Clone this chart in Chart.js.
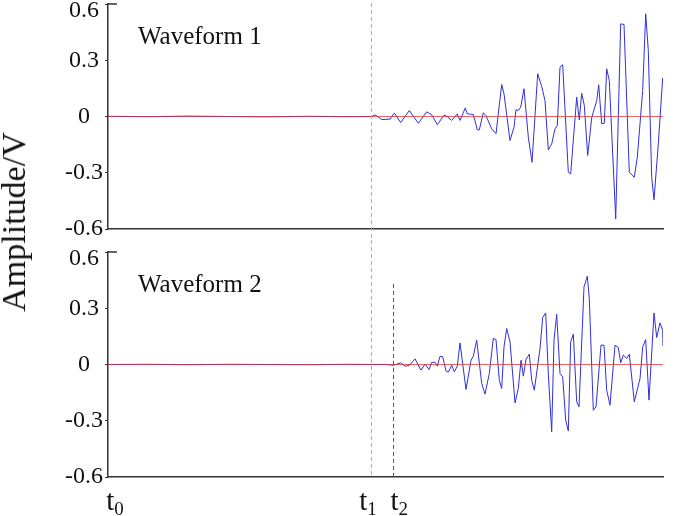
<!DOCTYPE html>
<html>
<head>
<meta charset="utf-8">
<script src="https://cdn.jsdelivr.net/npm/chart.js@4"></script>
<style>
  html, body { margin: 0; padding: 0; background: #fff; }
  #wrap { position: relative; width: 675px; height: 516px; overflow: hidden; }
  #top { position: absolute; left: 0; top: 0; }
  #bottom { position: absolute; left: 0; top: 240px; }
  #ytitle {
    position: absolute; left: 14px; top: 222px;
    transform: translate(-50%, -50%) rotate(-90deg);
    font: 34px "Liberation Serif", serif; color: #111; white-space: nowrap;
  }
</style>
</head>
<body>
<div id="wrap">
  <canvas id="top" width="675" height="240"></canvas>
  <canvas id="bottom" width="675" height="276"></canvas>
  <div id="ytitle">Amplitude/V</div>
</div>
<script>
// time axis runs t0 .. end of record (arbitrary sample units)
const T_END = 555;
const markerTimes = [0, 263, 285.3];      // t0, t1, t2
const markerSubs = ['0', '1', '2'];
const yTicks = [-0.6, -0.3, 0, 0.3, 0.6];
const t2LineTop = 0.43;

// Waveform 1 (V)
const time1 = [0, 40, 80, 120, 160, 200, 240, 263.7, 267, 273.7, 282, 286.3, 292.7, 301.3, 310.3, 318.7, 323.7,
  329.3, 336, 338.7, 343.7, 349.3, 352, 357.3, 359.3, 365.3, 369.3, 371.3, 375.3, 378, 383.7, 388, 393.7, 396, 402,
  406, 408, 410.3, 412.7, 416, 420.3, 424, 429.7, 433.7, 437, 440.3, 443.7, 447, 449.3, 452, 454.7, 460.3, 462.7,
  468.7, 471.3, 473.7, 476.3, 479.7, 483.7, 488.7, 490.7, 493.7, 496.3, 498.7, 501.3, 507.7, 512.7, 516, 521.3,
  526.3, 529.3, 534.7, 537.7, 540.3, 543.7, 546, 550.3, 554.7];
const amp1 = [0.001, -0.001, 0.002, 0, -0.002, 0.001, -0.001, 0, 0.009, -0.016, -0.014, 0.018, -0.032, 0.032, -0.036, 0.025, 0.009,
  -0.044, 0.007, 0.002, -0.021, 0.014, -0.021, 0.046, 0.014, 0.011, -0.071, -0.071, 0.020, 0.005, -0.066, -0.092, 0.171, 0.121, -0.128,
  -0.057, 0.036, 0.032, 0.050, 0.148, -0.110, -0.244, 0.228, 0.160, 0.085, -0.178, -0.146, -0.066, -0.048, 0.263, 0.276, -0.297, -0.306,
  0.103, -0.018, 0.124, 0.059, -0.208, -0.007, 0.085, 0.169, -0.039, -0.036, 0.254, 0.192, -0.546, 0.494, 0.491, -0.297,
  -0.324, -0.217, 0.139, 0.548, 0.352, -0.324, -0.444, -0.146, 0.206];

// Waveform 2 (V)
const time2 = [0, 40, 80, 120, 160, 200, 240, 278.7, 285.3, 288.7, 292.7, 297, 301.3, 307, 313, 317, 321, 323.7,
  327, 329.3, 332, 334.7, 338, 340.3, 343.7, 346.3, 349.3, 352, 358, 363, 365.3, 368.7, 373.7, 377, 381.3, 385.3, 388, 391.3,
  393.7, 396, 398.7, 402, 407, 410.3, 413, 415.3, 418, 421.3, 423.7, 426.3, 432, 434.7, 437.7, 440.3, 443.7, 446, 448.7, 452,
  454.7, 457.7, 460.3, 462.7, 465.3, 468.7, 471, 476, 479.3, 481.3, 485.3, 488, 493, 496, 498.7, 502, 507, 510.3, 512.7, 515.3,
  518.7, 521.3, 526.3, 532, 534.7, 537.7, 541, 546, 548.7, 552, 554.7, 555];
const amp2 = [0, 0.001, -0.001, 0.001, 0, -0.001, 0.001, 0, -0.004, 0.002, 0.009, -0.009, -0.005, 0.030, -0.030, 0.002, -0.027, 0.012,
  0.012, -0.009, 0.044, 0.041, -0.034, -0.041, -0.004, -0.039, -0.009, 0.115, -0.133, 0.023, 0.044, 0.130, -0.101, -0.158, -0.048, 0.139, 0.133, -0.084,
  -0.128, 0.094, 0.192, 0.121, -0.205, -0.128, 0.023, -0.062, 0.027, 0.055, -0.084, -0.137, 0.085, 0.251, 0.275, -0.048, -0.359, 0.130, 0.268, -0.048,
  -0.066, -0.297, -0.354, 0.121, 0.162, -0.199, -0.226, 0.414, 0.471, 0.352, -0.244, -0.226, 0.103, 0.103, -0.137, -0.217, 0.103, 0.091, 0.009, 0.050,
  0.032, 0.055, -0.199, -0.075, 0.094, 0.133, -0.190, 0.275, 0.144, 0.222, 0.183, 0.098];

const SERIF = '"Liberation Serif", "Times New Roman", serif';
const AXIS = '#333';

// dashed t1 / t2 markers, waveform caption, t-labels
const overlay = {
  id: 'overlay',
  afterDatasetsDraw(chart, args, opts) {
    const { ctx, chartArea, scales: { x, y } } = chart;
    ctx.save();

    // short stub at the top of the y axis
    ctx.strokeStyle = AXIS;
    ctx.lineWidth = 1.5;
    ctx.beginPath();
    ctx.moveTo(chartArea.left, y.getPixelForValue(0.6));
    ctx.lineTo(chartArea.left + 9, y.getPixelForValue(0.6));
    ctx.stroke();

    ctx.lineWidth = 1;
    ctx.setLineDash([4, 3]);
    const x1 = Math.round(x.getPixelForValue(markerTimes[1])) + 0.5;
    ctx.strokeStyle = '#b0b0b0';
    ctx.beginPath();
    ctx.moveTo(x1, opts.isTop ? chartArea.top - 1 : 0);
    ctx.lineTo(x1, opts.isTop ? chart.height : chartArea.bottom);
    ctx.stroke();

    if (!opts.isTop) {
      const x2 = Math.round(x.getPixelForValue(markerTimes[2])) + 0.5;
      ctx.strokeStyle = '#555';
      ctx.beginPath();
      ctx.moveTo(x2, y.getPixelForValue(t2LineTop));
      ctx.lineTo(x2, chartArea.bottom);
      ctx.stroke();
    }
    ctx.setLineDash([]);

    ctx.fillStyle = '#111';
    ctx.textBaseline = 'alphabetic';
    ctx.textAlign = 'left';
    ctx.font = '25px ' + SERIF;
    ctx.fillText(opts.caption, x.getPixelForValue(30), y.getPixelForValue(0.385));

    if (!opts.isTop) {
      const shift = [7, -3, 6];
      const base = chartArea.bottom + 33;
      markerTimes.forEach((t, i) => {
        ctx.font = '29px ' + SERIF;
        const wt = ctx.measureText('t').width;
        ctx.font = '19px ' + SERIF;
        const ws = ctx.measureText(markerSubs[i]).width;
        const left = x.getPixelForValue(t) + shift[i] - (wt + ws) / 2;
        ctx.font = '29px ' + SERIF;
        ctx.fillText('t', left, base);
        ctx.font = '19px ' + SERIF;
        ctx.fillText(markerSubs[i], left + wt, base + 5);
      });
    }
    ctx.restore();
  }
};

function makeChart(id, times, amps, caption, isTop) {
  return new Chart(document.getElementById(id), {
    type: 'line',
    data: {
      datasets: [
        {
          data: [{ x: 0, y: 0 }, { x: T_END, y: 0 }],
          borderColor: 'rgba(230,50,50,0.75)', borderWidth: 1, pointRadius: 0
        },
        {
          data: times.map((t, i) => ({ x: t, y: amps[i] })),
          borderColor: '#2f2fe0', borderWidth: 1, pointRadius: 0, tension: 0
        }
      ]
    },
    options: {
      responsive: false,
      animation: false,
      events: [],
      layout: { padding: { left: 0, right: 12, top: isTop ? 4 : 12, bottom: 0 } },
      plugins: {
        legend: { display: false },
        tooltip: { enabled: false },
        overlay: { caption, isTop }
      },
      scales: {
        x: {
          type: 'linear', min: 0, max: T_END,
          grid: { display: false },
          ticks: { display: false },
          border: { display: true, color: AXIS, width: 1.5 },
          afterFit(s) { s.height = isTop ? 11 : 39; s.paddingLeft = 0; s.paddingRight = 0; }
        },
        y: {
          min: -0.6, max: 0.6,
          afterBuildTicks(s) { s.ticks = yTicks.map(v => ({ value: v })); },
          grid: { drawOnChartArea: false, drawTicks: true, tickLength: 3, color: AXIS, lineWidth: 1 },
          border: { display: true, color: AXIS, width: 1.5 },
          ticks: {
            color: '#111',
            padding: 2,
            crossAlign: 'center',
            font: c => (c.tick && c.tick.value === 0.6)
              ? { family: SERIF, size: 24, lineHeight: 0.6 }
              : { family: SERIF, size: 24 },
            callback: v => {
              const s = v === 0 ? '0' : v.toFixed(1);
              return v === 0.6 ? ['', s] : s;
            }
          },
          afterFit(s) { s.width = 108; s.paddingTop = 0; s.paddingBottom = 0; }
        }
      }
    },
    plugins: [overlay]
  });
}

makeChart('top', time1, amp1, 'Waveform 1', true);
makeChart('bottom', time2, amp2, 'Waveform 2', false);
</script>
</body>
</html>
